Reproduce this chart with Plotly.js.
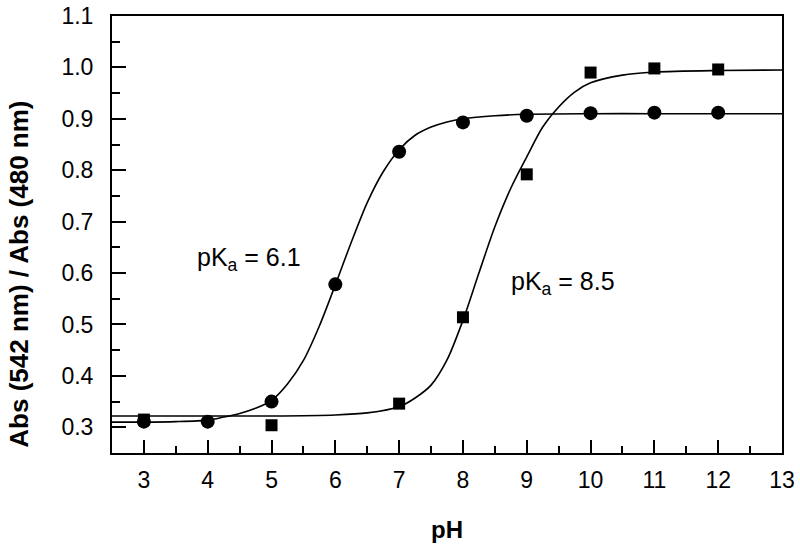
<!DOCTYPE html>
<html>
<head>
<meta charset="utf-8">
<script src="https://cdn.plot.ly/plotly-3.0.1.min.js"></script>
<style>
  html, body { margin: 0; padding: 0; background: #fff; }
  #plot { width: 800px; height: 549px; }
</style>
</head>
<body>
<div id="plot"></div>
<script>
const phCircle = [3, 4, 5, 6, 7, 8, 9, 10, 11, 12];
const absCircle = [0.311, 0.311, 0.350, 0.578, 0.836, 0.893, 0.906, 0.911, 0.912, 0.912];

const phSquare = [3, 5, 7, 8, 9, 10, 11, 12];
const absSquare = [0.315, 0.304, 0.346, 0.514, 0.792, 0.990, 0.998, 0.996];

// fitted curves
const phFitCircle = [2.5, 3, 3.5, 4, 4.25, 4.5, 4.75, 5, 5.25, 5.5, 5.75, 6, 6.25, 6.5, 6.75, 7, 7.25, 7.5, 7.75, 8, 8.5, 9, 10, 11, 12, 13];
const absFitCircle = [0.310, 0.310, 0.311, 0.314, 0.320, 0.327, 0.337, 0.352, 0.384, 0.430, 0.497, 0.577, 0.660, 0.737, 0.797, 0.840, 0.868, 0.884, 0.894, 0.900, 0.906, 0.909, 0.910, 0.910, 0.910, 0.910];

const phFitSquare = [2.5, 3, 4, 5, 6, 6.5, 7, 7.25, 7.5, 7.75, 8, 8.25, 8.5, 8.75, 9, 9.25, 9.5, 9.75, 10, 10.5, 11, 12, 13];
const absFitSquare = [0.322, 0.322, 0.322, 0.322, 0.324, 0.328, 0.340, 0.357, 0.382, 0.431, 0.508, 0.600, 0.690, 0.765, 0.826, 0.884, 0.923, 0.952, 0.970, 0.985, 0.991, 0.994, 0.995];

const pkaLabels = ['pK<sub>a</sub> = 6.1', 'pK<sub>a</sub> = 8.5'];
const pkaX = [3.8, 8.72];
const pkaY = [0.628, 0.58];

const fontFam = '"Liberation Sans", Arial, sans-serif';

const traces = [
    {
        x: phFitCircle, y: absFitCircle, mode: 'lines',
        line: { color: 'black', width: 1.6, shape: 'spline', smoothing: 0.8 },
        showlegend: false, hoverinfo: 'skip'
    },
    {
        x: phFitSquare, y: absFitSquare, mode: 'lines',
        line: { color: 'black', width: 1.6, shape: 'spline', smoothing: 0.8 },
        showlegend: false, hoverinfo: 'skip'
    },
    {
        x: phSquare, y: absSquare, mode: 'markers',
        marker: { symbol: 'square', size: 12, color: 'black' },
        showlegend: false
    },
    {
        x: phCircle, y: absCircle, mode: 'markers',
        marker: { symbol: 'circle', size: 14, color: 'black' },
        showlegend: false
    }
];

const annotations = pkaLabels.map((txt, i) => ({
    x: pkaX[i], y: pkaY[i], xref: 'x', yref: 'y',
    text: txt, showarrow: false,
    xanchor: 'left', yanchor: 'middle',
    font: { family: fontFam, size: 25, color: 'black' }
}));

// y title placed by hand, it sits a bit below the middle of the axis
annotations.push({
    xref: 'paper', yref: 'paper', x: -0.139, y: 0.41,
    text: '<b>Abs (542 nm) / Abs (480 nm)</b>', textangle: -90,
    showarrow: false, xanchor: 'center', yanchor: 'middle',
    font: { family: fontFam, size: 26, color: 'black' }
});

const layout = {
    width: 800,
    height: 549,
    margin: { l: 112, r: 18, t: 16, b: 96 },
    paper_bgcolor: 'white',
    plot_bgcolor: 'white',
    font: { family: fontFam, color: 'black' },
    xaxis: {
        range: [2.5, 13],
        tickmode: 'linear', tick0: 3, dtick: 1,
        ticks: 'inside', ticklen: 13, tickwidth: 2, tickcolor: 'black',
        minor: { dtick: 0.5, ticks: 'inside', ticklen: 7, tickwidth: 2, tickcolor: 'black' },
        showline: true, linecolor: 'black', linewidth: 2, mirror: true,
        showgrid: false, zeroline: false,
        tickfont: { size: 23 },
        ticklabelstandoff: 5,
        title: { text: '<b>pH</b>', font: { size: 24 }, standoff: 30 }
    },
    yaxis: {
        range: [0.25, 1.1],
        tickmode: 'linear', tick0: 0.3, dtick: 0.1,
        tickformat: '.1f',
        ticks: 'inside', ticklen: 14, tickwidth: 2, tickcolor: 'black',
        minor: { dtick: 0.05, ticks: 'inside', ticklen: 8, tickwidth: 2, tickcolor: 'black' },
        showline: true, linecolor: 'black', linewidth: 2, mirror: true,
        showgrid: false, zeroline: false,
        tickfont: { size: 23 },
        ticklabelstandoff: 12
    },
    annotations: annotations
};

Plotly.newPlot('plot', traces, layout, { displayModeBar: false, staticPlot: true });
</script>
</body>
</html>
